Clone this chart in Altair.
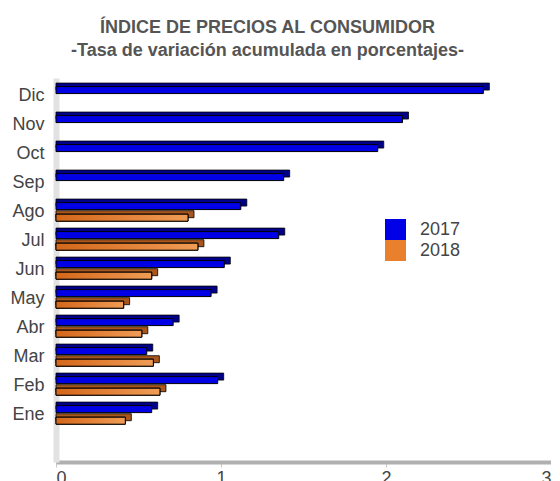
import altair as alt
import pandas as pd

months = ["Ene", "Feb", "Mar", "Abr", "May", "Jun", "Jul", "Ago", "Sep", "Oct", "Nov", "Dic"]
series = ["2017", "2018"]
values_2017 = [0.58, 0.98, 0.55, 0.71, 0.94, 1.02, 1.35, 1.12, 1.38, 1.95, 2.10, 2.59]
values_2018 = [0.42, 0.63, 0.59, 0.52, 0.41, 0.58, 0.86, 0.80, None, None, None, None]
x_ticks = [0, 1, 2, 3]

rows = []
for m, v in zip(months, values_2017):
    rows.append({"mes": m, "serie": "2017", "valor": v})
for m, v in zip(months, values_2018):
    if v is not None:
        rows.append({"mes": m, "serie": "2018", "valor": v})
df = pd.DataFrame(rows)

month_order = list(reversed(months))

PLOT_H = 384
y_scale = alt.Scale(paddingInner=0.2, paddingOuter=0.72, align=0.15)
y_axis = alt.Axis(labelFontSize=18, labelColor="#444", labelPadding=12,
                  ticks=False, domainColor="#e2e2e2", domainWidth=6,
                  labelFont="Liberation Sans", zindex=0)
band_w = PLOT_H / (12 - 0.2 + 2 * 0.72) * 0.8

x_scale = alt.Scale(domain=[0, 3], nice=False)
x_axis = alt.Axis(values=x_ticks, format="d", labelFontSize=18, labelColor="#444",
                  labelFont="Liberation Sans", grid=False, domainColor="#b0b0b0",
                  domainWidth=4, tickColor="#c8c8c8", tickSize=5, labelPadding=2,
                  zindex=0)

yoff_front = alt.YOffset("serie:N", sort=series,
                         scale=alt.Scale(domain=series, paddingInner=0, paddingOuter=0))

back = alt.Chart(df).mark_bar(height=7, xOffset=6, stroke="#000",
                              strokeWidth=0.8).encode(
    x=alt.X("valor:Q", scale=x_scale, axis=x_axis, title=None),
    x2=alt.datum(0),
    y=alt.Y("mes:N", sort=month_order, scale=y_scale, axis=y_axis, title=None),
    yOffset=alt.YOffset("serie:N", sort=series,
                        scale=alt.Scale(domain=series, paddingInner=0, paddingOuter=0,
                                        range=[-3.5, band_w - 3.5])),
    fill=alt.Fill("serie:N", scale=alt.Scale(domain=series, range=["#000088", "#a8561c"]),
                  legend=None),
)

front = alt.Chart(df).mark_bar(height=7, stroke="#000", strokeWidth=1).encode(
    x=alt.X("valor:Q", scale=x_scale, axis=x_axis, title=None),
    y=alt.Y("mes:N", sort=month_order, scale=y_scale, axis=y_axis, title=None),
    yOffset=yoff_front,
    color=alt.Color("serie:N", scale=alt.Scale(domain=series, range=["#0000e6", "#e8802e"]),
                    title=None,
                    legend=alt.Legend(orient="none", legendX=329, legendY=141,
                                      symbolType="square", symbolSize=441,
                                      symbolStrokeWidth=0, symbolOpacity=1,
                                      labelFontSize=18, labelColor="#444",
                                      labelFont="Liberation Sans",
                                      labelOffset=14, rowPadding=0, padding=0)),
)

orange_grad = alt.Gradient(
    gradient="linear", x1=0, x2=1, y1=0, y2=0,
    stops=[alt.GradientStop(color="#d4671a", offset=0),
           alt.GradientStop(color="#f09c55", offset=1)],
)

front_grad = alt.Chart(df).transform_filter(alt.datum.serie == "2018").mark_bar(
    height=7, stroke="#000", strokeWidth=1, color=orange_grad).encode(
    x=alt.X("valor:Q", scale=x_scale, axis=x_axis, title=None),
    y=alt.Y("mes:N", sort=month_order, scale=y_scale, axis=y_axis, title=None),
    yOffset=yoff_front,
)

chart = alt.layer(back, front, front_grad).resolve_scale(
    fill="independent", yOffset="independent").properties(
    width=495,
    height=PLOT_H,
    autosize=alt.AutoSizeParams(type="none"),
    padding={"left": 48, "top": 70, "right": 0, "bottom": 19},
    title=alt.TitleParams(
        text="ÍNDICE DE PRECIOS AL CONSUMIDOR",
        subtitle="-Tasa de variación acumulada en porcentajes-",
        anchor="middle", frame="group", dx=-36,
        font="Liberation Sans", fontSize=18, fontWeight="bold", color="#555",
        subtitleFont="Liberation Sans", subtitleFontSize=18, subtitleFontWeight="bold",
        subtitleColor="#555", subtitlePadding=5, offset=18,
    ),
).configure_view(stroke=None)

chart.save("out.html", embed_options={"renderer": "svg", "actions": False})
